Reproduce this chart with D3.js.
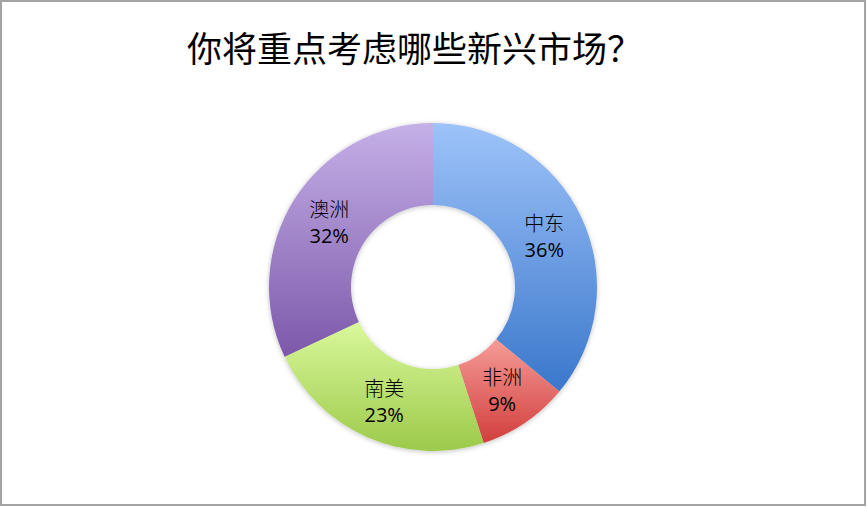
<!DOCTYPE html>
<html><head><meta charset="utf-8">
<script src="https://cdn.jsdelivr.net/npm/d3@7"></script>
<style>html,body{margin:0;padding:0;background:#fff;}svg{display:block;}</style>
</head><body>
<svg id="chart" width="867" height="507"></svg>
<script>
const title = "你将重点考虑哪些新兴市场？";
const categories = ["中东", "非洲", "南美", "澳洲"];
const values = [36, 9, 23, 32];
const colorsTop = ["#9ec3f9", "#f59c97", "#daf89c", "#c5b0e7"];
const colorsBottom = ["#3a77cb", "#d13e3d", "#9cca4a", "#7c58aa"];

const W = 867, H = 507;
const svg = d3.select("#chart");
const defs = svg.append("defs");

svg.append("rect").attr("x",1).attr("y",1).attr("width",W-3).attr("height",H-3)
  .attr("fill","#fff").attr("stroke","#a3a3a3").attr("stroke-width",2);

svg.append("text").attr("x",187).attr("y",62).attr("text-anchor","start")
  .attr("font-family","'Noto Sans CJK SC', sans-serif").attr("font-size",35)
  .attr("font-weight",400).attr("fill","#000").text(title);

const cx = 433, cy = 287, rOuter = 164, rInner = 82;

const filt = defs.append("filter").attr("id","shadow").attr("x","-20%").attr("y","-20%").attr("width","140%").attr("height","140%");
filt.append("feDropShadow").attr("dx",0).attr("dy",1).attr("stdDeviation",2.5).attr("flood-color","#000").attr("flood-opacity",0.25);

categories.forEach((c,i)=>{
  const g = defs.append("linearGradient").attr("id","grad"+i).attr("x1",0).attr("y1",0).attr("x2",0).attr("y2",1);
  g.append("stop").attr("offset","0%").attr("stop-color",colorsTop[i]);
  g.append("stop").attr("offset","100%").attr("stop-color",colorsBottom[i]);
});

const pie = d3.pie().sort(null).value(d=>d.v);
const arcs = pie(categories.map((c,i)=>({c, v: values[i], i})));
const arc = d3.arc().innerRadius(rInner).outerRadius(rOuter);

const g = svg.append("g").attr("transform",`translate(${cx},${cy})`);
g.append("g").attr("filter","url(#shadow)").selectAll("path").data(arcs).join("path")
  .attr("d",arc).attr("fill",d=>`url(#grad${d.data.i})`);

const lbl = g.selectAll("text.lbl").data(arcs).join("text").attr("class","lbl")
  .attr("transform",d=>{const [x,y]=arc.centroid(d);return `translate(${x},${y})`;})
  .attr("text-anchor","middle").attr("fill","#000");
lbl.append("tspan").attr("x",0).attr("y",-4)
  .attr("font-family","'Noto Sans CJK SC', sans-serif").attr("font-size",20).attr("font-weight",300)
  .text(d=>d.data.c);
lbl.append("tspan").attr("x",0).attr("y",22)
  .attr("font-family","'Open Sans', sans-serif").attr("font-size",20)
  .text(d=>d.data.v+"%");
</script>
</body></html>
